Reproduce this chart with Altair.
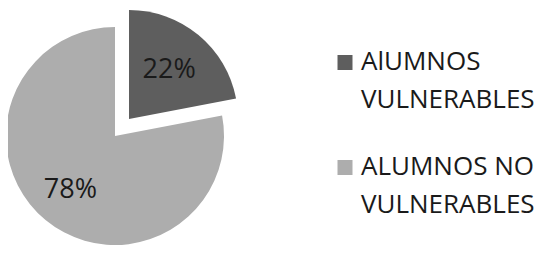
import altair as alt
import pandas as pd

categories = ["AlUMNOS VULNERABLES", "ALUMNOS NO VULNERABLES"]
values = [22, 78]
labels = ["22%", "78%"]
colors = ["#5e5e5e", "#adadad"]

df = pd.DataFrame({"cat": categories, "val": values, "lab": labels,
                   "order": [0, 1]})

color = alt.Color(
    "cat:N",
    scale=alt.Scale(domain=categories, range=colors),
    legend=alt.Legend(
        title=None, orient="none", legendX=324, legendY=41.5,
        symbolType="square", symbolSize=225, symbolStrokeWidth=0,
        symbolOpacity=1,
        labelFont="Open Sans", labelFontSize=26, labelColor="#1a1a1a",
        labelBaseline="top",
        labelExpr="datum.label == 'AlUMNOS VULNERABLES' ? ['AlUMNOS', 'VULNERABLES'] : ['ALUMNOS NO', 'VULNERABLES']",
        labelLimit=400, rowPadding=40, labelOffset=3,
    ),
)

theta_scale = alt.Scale(domain=[0, 100])

base = alt.Chart(df).transform_window(
    end="sum(val)", sort=[alt.SortField("order")], frame=[None, 0]
).transform_calculate(
    start="datum.end - datum.val", mid="datum.end - datum.val / 2"
)

def slice_layer(cat, cx, cy, r, r_label):
    b = base.transform_filter(alt.datum.cat == cat)
    arc = b.mark_arc(outerRadius=r, stroke=None).encode(
        theta=alt.Theta("start:Q", scale=theta_scale),
        theta2="end:Q",
        color=color,
        x=alt.value(cx), y=alt.value(cy),
    )
    txt = b.mark_text(radius=r_label, font="Open Sans", fontSize=27,
                      color="#1a1a1a").encode(
        theta=alt.Theta("mid:Q", scale=theta_scale),
        text="lab:N",
        x=alt.value(cx), y=alt.value(cy),
    )
    return arc + txt

chart = alt.layer(
    slice_layer(categories[1], 107, 128, 109, 70),
    slice_layer(categories[0], 121, 111, 109, 63),
).properties(
    width=527, height=243, padding=0,
    autosize=alt.AutoSizeParams(type="none"),
).configure(
    style={"guide-label": {"lineHeight": 38, "dy": -13.5}},
    view=alt.ViewConfig(strokeWidth=0),
)

chart.save("out.html", embed_options={"renderer": "svg", "actions": False})
